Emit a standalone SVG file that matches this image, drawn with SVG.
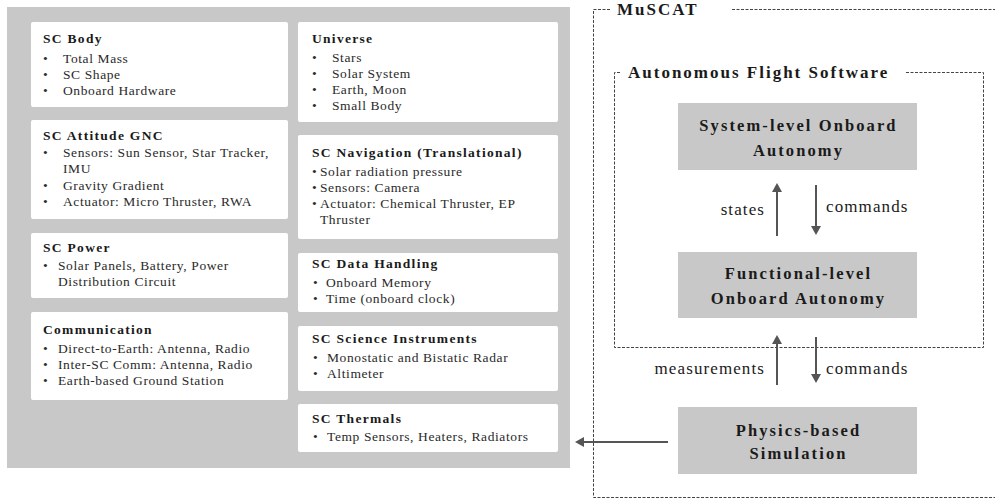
<svg xmlns="http://www.w3.org/2000/svg" width="995" height="499" viewBox="0 0 995 499">
<style>
.panel{fill:#c8c8c8}
.card{fill:#ffffff;stroke:none}
.t{font-family:"Liberation Serif","Times New Roman",serif;font-weight:bold;font-size:13.5px;letter-spacing:1.3px;fill:#1a1a1a}
.b{font-family:"Liberation Serif","Times New Roman",serif;font-size:13.5px;letter-spacing:0.6px;fill:#2a2a2a}
.gbox{fill:#c8c8c8}
.gt{font-family:"Liberation Serif","Times New Roman",serif;font-weight:bold;font-size:16.5px;letter-spacing:2.1px;fill:#1a1a1a;text-anchor:middle}
.frame{fill:none;stroke:#444;stroke-width:1;stroke-dasharray:3 1.5}
.ft{font-family:"Liberation Serif","Times New Roman",serif;font-weight:bold;font-size:17px;letter-spacing:2px;fill:#1a1a1a}
.lbl{font-family:"Liberation Serif","Times New Roman",serif;font-size:17px;letter-spacing:1.1px;fill:#1a1a1a}
.arr{stroke:#555;stroke-width:2;fill:none;marker-end:url(#ah)}
</style>
<defs>
<marker id="ah" markerUnits="userSpaceOnUse" markerWidth="9" markerHeight="10" refX="5" refY="5" orient="auto">
<path d="M0,0 L9,5 L0,10 z" fill="#555"/>
</marker>
</defs>

<g id="sim-panel">
<rect class="panel" x="7" y="7" width="563" height="461"/>
</g>

<g id="sc-body">
<rect class="card" x="31" y="22" width="257" height="85" rx="2"/>
<text class="t" x="43" y="43">SC Body</text>
<text class="b" x="43" y="63">•</text><text class="b" x="63" y="63">Total Mass</text>
<text class="b" x="43" y="79">•</text><text class="b" x="63" y="79">SC Shape</text>
<text class="b" x="43" y="95">•</text><text class="b" x="63" y="95">Onboard Hardware</text>
</g>

<g id="sc-attitude">
<rect class="card" x="31" y="120" width="257" height="99" rx="2"/>
<text class="t" x="43" y="140">SC Attitude GNC</text>
<text class="b" x="43" y="157">•</text><text class="b" x="63" y="157">Sensors: Sun Sensor, Star Tracker,</text>
<text class="b" x="63" y="173">IMU</text>
<text class="b" x="43" y="190">•</text><text class="b" x="63" y="190">Gravity Gradient</text>
<text class="b" x="43" y="206">•</text><text class="b" x="63" y="206">Actuator: Micro Thruster, RWA</text>
</g>

<g id="sc-power">
<rect class="card" x="31" y="233" width="257" height="65" rx="2"/>
<text class="t" x="43" y="252">SC Power</text>
<text class="b" x="43" y="270">•</text><text class="b" x="58" y="270">Solar Panels, Battery, Power</text>
<text class="b" x="58" y="286">Distribution Circuit</text>
</g>

<g id="communication">
<rect class="card" x="31" y="312" width="257" height="88" rx="2"/>
<text class="t" x="43" y="334">Communication</text>
<text class="b" x="43" y="353">•</text><text class="b" x="58" y="353">Direct-to-Earth: Antenna, Radio</text>
<text class="b" x="43" y="369">•</text><text class="b" x="58" y="369">Inter-SC Comm: Antenna, Radio</text>
<text class="b" x="43" y="385">•</text><text class="b" x="58" y="385">Earth-based Ground Station</text>
</g>

<g id="universe">
<rect class="card" x="298" y="22" width="260" height="100" rx="2"/>
<text class="t" x="312" y="43">Universe</text>
<text class="b" x="312" y="62">•</text><text class="b" x="332" y="62">Stars</text>
<text class="b" x="312" y="78">•</text><text class="b" x="332" y="78">Solar System</text>
<text class="b" x="312" y="94">•</text><text class="b" x="332" y="94">Earth, Moon</text>
<text class="b" x="312" y="110">•</text><text class="b" x="332" y="110">Small Body</text>
</g>

<g id="sc-navigation">
<rect class="card" x="298" y="135" width="260" height="104" rx="2"/>
<text class="t" x="312" y="157">SC Navigation (Translational)</text>
<text class="b" x="312" y="176">•</text><text class="b" x="320" y="176">Solar radiation pressure</text>
<text class="b" x="312" y="192">•</text><text class="b" x="320" y="192">Sensors: Camera</text>
<text class="b" x="312" y="208">•</text><text class="b" x="320" y="208">Actuator: Chemical Thruster, EP</text>
<text class="b" x="320" y="224">Thruster</text>
</g>

<g id="sc-data-handling">
<rect class="card" x="298" y="253" width="260" height="59" rx="2"/>
<text class="t" x="312" y="268">SC Data Handling</text>
<text class="b" x="313" y="287">•</text><text class="b" x="326" y="287">Onboard Memory</text>
<text class="b" x="313" y="303">•</text><text class="b" x="326" y="303">Time (onboard clock)</text>
</g>

<g id="sc-science">
<rect class="card" x="298" y="326" width="260" height="65" rx="2"/>
<text class="t" x="312" y="343">SC Science Instruments</text>
<text class="b" x="313" y="362">•</text><text class="b" x="327" y="362">Monostatic and Bistatic Radar</text>
<text class="b" x="313" y="378">•</text><text class="b" x="327" y="378">Altimeter</text>
</g>

<g id="sc-thermals">
<rect class="card" x="298" y="404" width="260" height="48" rx="2"/>
<text class="t" x="312" y="423">SC Thermals</text>
<text class="b" x="313" y="441">•</text><text class="b" x="327" y="441">Temp Sensors, Heaters, Radiators</text>
</g>

<g id="muscat">
<path class="frame" d="M610,9.5 H593.5 V497.5 H1000"/>
<path class="frame" d="M732,9.5 H1000"/>
<text class="ft" x="617" y="15">MuSCAT</text>
</g>

<g id="afs">
<path class="frame" d="M620,72.5 H614.5 V347.5 H983.5 V72.5 H905"/>
<text class="ft" x="628" y="78">Autonomous Flight Software</text>
</g>

<g id="system-autonomy">
<rect class="gbox" x="678" y="103" width="239" height="67"/>
<text class="gt" x="798.5" y="131">System-level Onboard</text>
<text class="gt" x="798.5" y="156">Autonomy</text>
</g>

<g id="functional-autonomy">
<rect class="gbox" x="678" y="252" width="239" height="66"/>
<text class="gt" x="798.5" y="279">Functional-level</text>
<text class="gt" x="798.5" y="304">Onboard Autonomy</text>
</g>

<g id="physics-sim">
<rect class="gbox" x="678" y="407" width="239" height="67"/>
<text class="gt" x="798.5" y="436">Physics-based</text>
<text class="gt" x="798.5" y="459">Simulation</text>
</g>

<g id="connectors">
<line class="arr" x1="777" y1="236" x2="777" y2="187"/>
<line class="arr" x1="816" y1="185" x2="816" y2="231"/>
<line class="arr" x1="777" y1="385" x2="777" y2="339"/>
<line class="arr" x1="816" y1="337" x2="816" y2="379"/>
<line class="arr" x1="668" y1="442" x2="579" y2="442"/>
<text class="lbl" x="765" y="215" text-anchor="end">states</text>
<text class="lbl" x="826" y="212">commands</text>
<text class="lbl" x="765" y="374" text-anchor="end">measurements</text>
<text class="lbl" x="826" y="374">commands</text>
</g>
</svg>
